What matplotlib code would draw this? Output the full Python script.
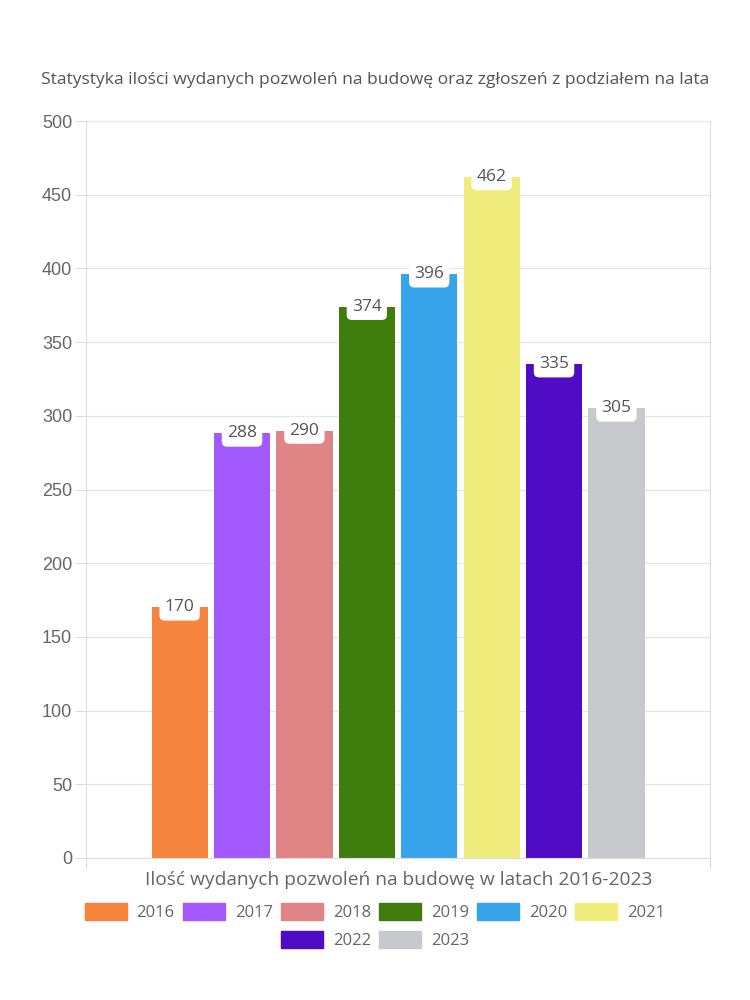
import matplotlib.pyplot as plt
import matplotlib.patches as mpatches

# data
years = ['2016', '2017', '2018', '2019', '2020', '2021', '2022', '2023']
permits = [170, 288, 290, 374, 396, 462, 335, 305]
colors = ['#F5843F', '#A259FF', '#E08585', '#3F7D0C',
          '#37A3EB', '#F0EC7C', '#500CC4', '#C8C9CD']
y_ticks = [0, 50, 100, 150, 200, 250, 300, 350, 400, 450, 500]

title = 'Statystyka ilości wydanych pozwoleń na budowę oraz zgłoszeń z podziałem na lata'
x_label = 'Ilość wydanych pozwoleń na budowę w latach 2016-2023'

text_font = ['Open Sans', 'DejaVu Sans']
grey = '#666666'
line_grey = '#dddddd'

fig = plt.figure(figsize=(7.5, 10), dpi=100)
ax = fig.add_axes([0.1147, 0.142, 0.832, 0.737])

slot = 0.1
n = len(years)
for i, (yr, val, col) in enumerate(zip(years, permits, colors)):
    x = (i - (n - 1) / 2) * slot
    ax.bar(x, val, width=slot * 0.9, color=col, label=yr, zorder=2)
    ax.text(x, val, str(val), ha='center', va='center', fontsize=12.5,
            color='#555555', family=text_font, zorder=3,
            bbox=dict(boxstyle='round,pad=0.3', fc='white', ec='none'))

ax.set_xlim(-0.5, 0.5)
ax.set_ylim(0, 500)
ax.set_yticks(y_ticks)
ax.set_xticks([-0.5, 0.5])
ax.set_xticklabels(['', ''])
ax.grid(axis='y', color='#e6e6e6', linewidth=0.9, zorder=0)
ax.tick_params(axis='y', length=8, color=line_grey, labelsize=13,
               labelcolor=grey, pad=2)
ax.tick_params(axis='x', length=8, color=line_grey)
for lbl in ax.get_yticklabels():
    lbl.set_family(['Liberation Sans', 'DejaVu Sans'])
for s in ax.spines.values():
    s.set_color(line_grey)
ax.spines['top'].set_visible(False)

fig.text(0.5, 0.92, title, ha='center', va='center', fontsize=12.6,
         color='#555555', family=text_font)
fig.text(0.532, 0.12, x_label, ha='center', va='center', fontsize=13.8,
         color=grey, family=text_font)

handles = [mpatches.Patch(color=c, label=y) for c, y in zip(colors, years)]
leg_kw = dict(frameon=False, handlelength=2.5, handleheight=1.2,
              handletextpad=0.6, columnspacing=0.5,
              prop={'family': text_font, 'size': 12}, labelcolor=grey)
leg1 = fig.legend(handles=handles[:6], ncol=6, loc='center',
                  bbox_to_anchor=(0.5, 0.088), **leg_kw)
leg2 = fig.legend(handles=handles[6:], ncol=2, loc='center',
                  bbox_to_anchor=(0.5, 0.060), **leg_kw)

fig.savefig('out.png', dpi=100)
